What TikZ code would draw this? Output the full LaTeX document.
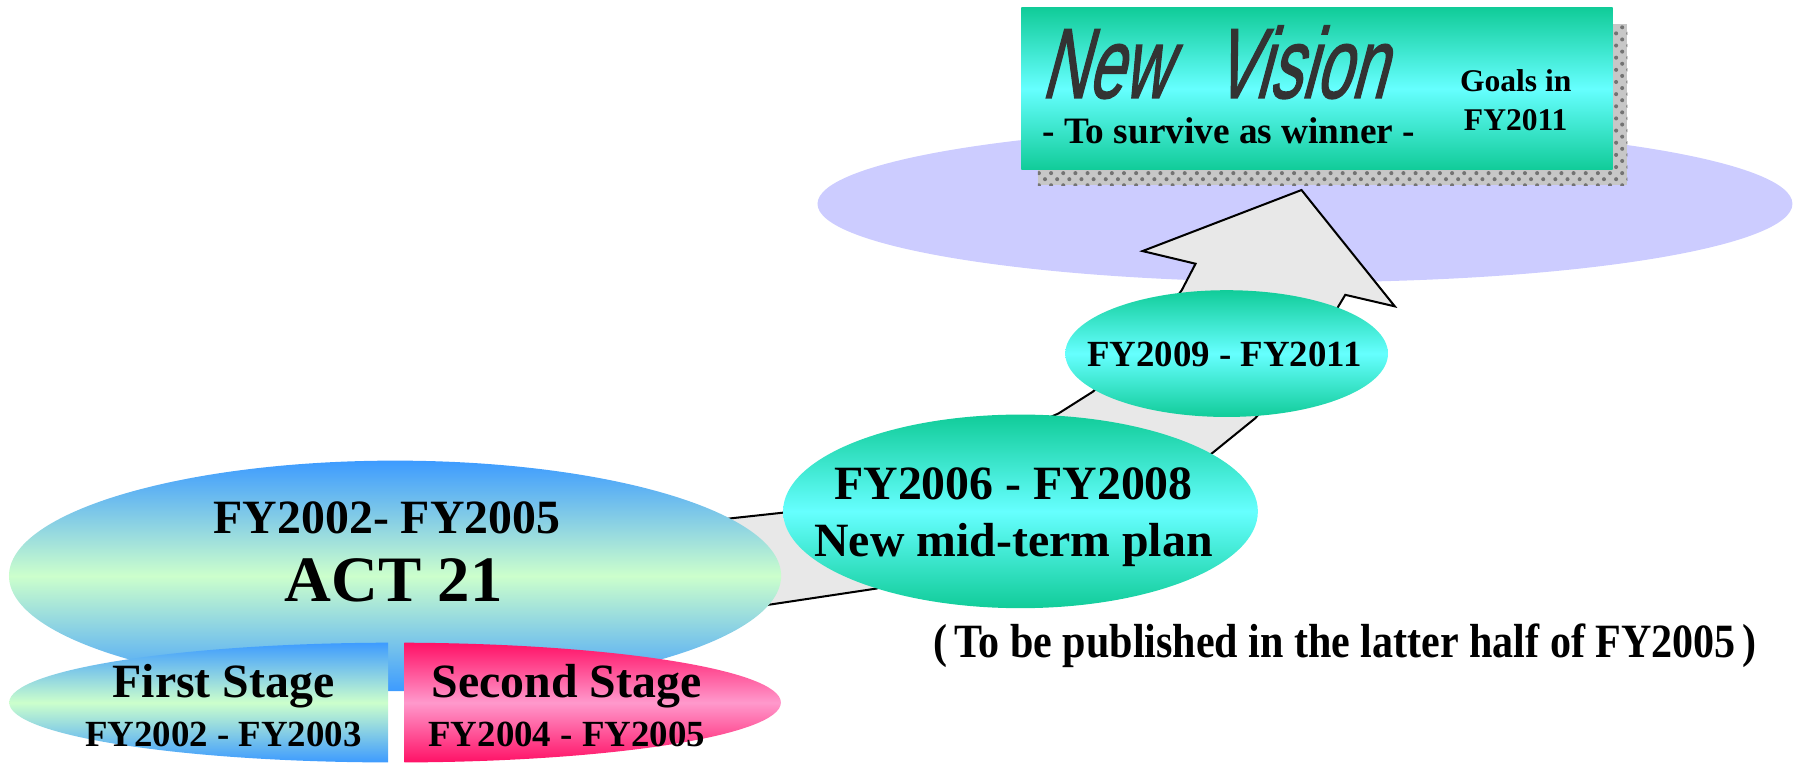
\documentclass[tikz,border=0pt]{standalone}
\usepackage{fontspec}
\setmainfont{Liberation Serif}
\newfontfamily\visionfont[FakeSlant=0.42, FakeBold=1.6]{Liberation Sans}
\usepackage{xcolor}
\usepackage{graphicx}
\usetikzlibrary{calc, positioning, shapes.geometric, patterns}

\definecolor{lavender}{HTML}{CCCCFF}
\definecolor{skyblue}{HTML}{3D9BFF}
\definecolor{palegreen}{HTML}{CCFFCC}
\definecolor{crimson}{HTML}{FF1166}
\definecolor{rosepink}{HTML}{FF99CC}
\definecolor{seateal}{HTML}{11CC99}
\definecolor{aqua}{HTML}{66FFFF}
\definecolor{arrowgray}{HTML}{E8E8E8}

\newcommand{\fs}[1]{\fontsize{#1pt}{#1pt}\selectfont\bfseries}

\tikzset{
  plan/.style={ellipse, inner sep=0pt, top color=seateal, bottom color=seateal, middle color=aqua},
  phase/.style={ellipse, inner sep=0pt, top color=skyblue, bottom color=skyblue, middle color=palegreen},
  tag/.style={anchor=base, inner sep=0pt, font={\fs{#1}}}
}

\begin{document}
\begin{tikzpicture}[x=0.01cm, y=-0.01cm]
      \useasboundingbox (0,0) rectangle (1568,662);
      % goal %
      \node[ellipse, fill=lavender, inner sep=0pt, minimum width=8.46cm, minimum height=1.36cm] (goal) at (1133,177) {};
      \fill[black!22] (901,21) rectangle (1413,161);
      \fill[pattern=crosshatch dots, pattern color=black!55] (901,21) rectangle (1413,161);
      \node[rectangle, inner sep=0pt, minimum width=5.13cm, minimum height=1.40cm, top color=seateal, bottom color=seateal, middle color=aqua] (vision) at (1143.5,77) {};
      \node[anchor=base west, inner sep=0pt, text=black!80, font=\visionfont\fontsize{24.6pt}{24.6pt}\selectfont] (title) at (903,85) {\scalebox{0.64}[1]{New\hspace{0.7em}Vision}};
      \node[tag=9.2] (motto) at (1067,124.5) {- To survive as winner -};
      \node[tag=7.8] (goals) at (1316,79.5) {Goals in};
      \node[tag=7.8] (goalyear) at (1316,113) {FY2011};
      % arrow %
      \draw[fill=arrowgray, line width=0.5pt] (600,535) -- (668,525) -- (761,511) -- (1000,430) -- (1053,393) -- (1090,363) -- (1150,290) -- (1162,266) -- (1168,256) -- (1211,266) -- (1130,165) -- (992,218) -- (1038,229) -- (1026,252) -- (990,300) -- (949,340) -- (919,359) -- (760,430) -- (681,445) -- (635,450) -- (600,455) -- cycle;
      % act 21 %
      \node[phase, minimum width=6.70cm, minimum height=2.00cm] (act) at (343,500) {};
      \begin{scope}
        \clip (0,540) rectangle (337,670);
        \path[top color=skyblue, bottom color=skyblue, middle color=palegreen] (343,610) ellipse (335 and 52);
      \end{scope}
      \begin{scope}
        \clip (351,540) rectangle (700,670);
        \path[top color=crimson, bottom color=crimson, middle color=rosepink] (343,610) ellipse (335 and 52);
      \end{scope}
      \node[tag=11.8] (actyears) at (336,463) {FY2002- FY2005};
      \node[tag=16] (actname) at (342,522) {ACT 21};
      \node[tag=11.8] (first) at (194,606) {First Stage};
      \node[tag=9.1] (firstyears) at (194,648) {FY2002 - FY2003};
      \node[tag=11.8] (second) at (492,606) {Second Stage};
      \node[tag=9.1] (secondyears) at (492,648) {FY2004 - FY2005};
      % plans %
      \node[plan, minimum width=4.12cm, minimum height=1.68cm] (midterm) at (886,444) {};
      \node[plan, minimum width=2.80cm, minimum height=1.10cm] (late) at (1065,307) {};
      \node[tag=11.8] (midyears) at (880,434) {FY2006 - FY2008};
      \node[tag=11.8] (midname) at (880,483) {New mid-term plan};
      \node[tag=9.1] (lateyears) at (1063,318) {FY2009 - FY2011};
      \node[tag=11.8] (note) at (1168,571) {\scalebox{0.88}[1]{(\,To be published in the latter half of FY2005\,)}};
    \end{tikzpicture}
\end{document}
